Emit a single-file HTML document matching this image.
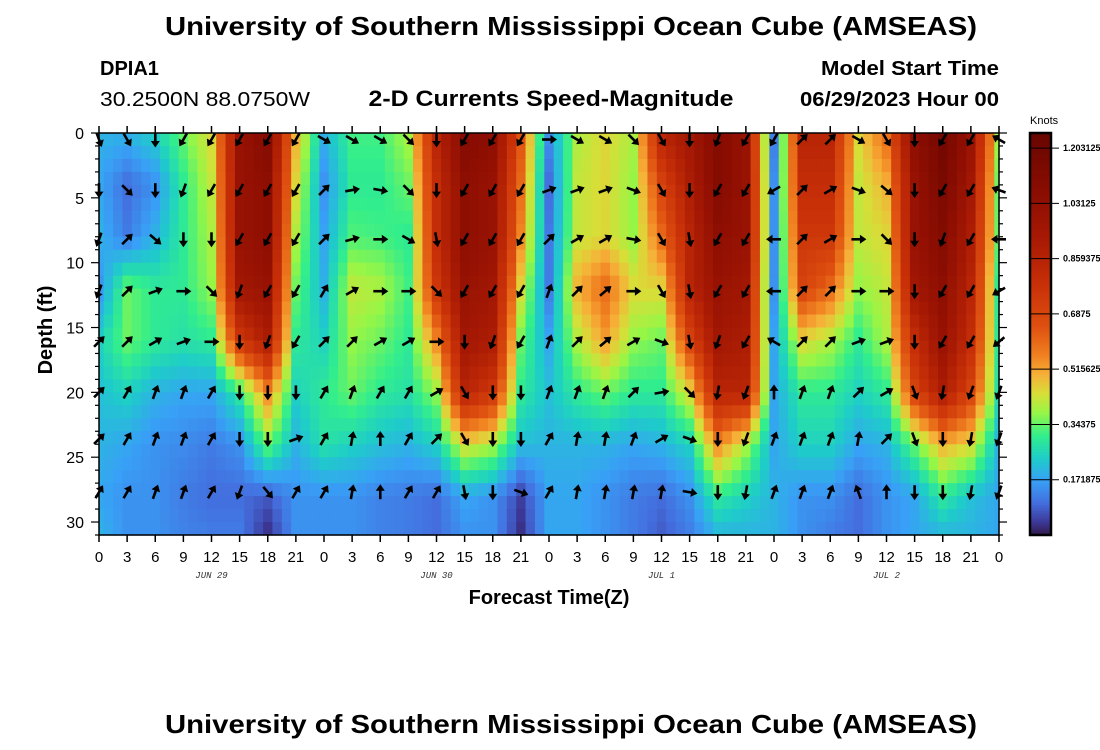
<!DOCTYPE html>
<html><head><meta charset="utf-8"><style>
html,body{margin:0;padding:0;background:#fff;width:1100px;height:750px;overflow:hidden}
svg{display:block;font-family:"Liberation Sans",sans-serif}
</style></head><body>
<svg id="chart" width="1100" height="750" viewBox="0 0 1100 750">
<text x="571" y="35" text-anchor="middle" font-size="26" font-weight="bold" textLength="812" lengthAdjust="spacingAndGlyphs">University of Southern Mississippi Ocean Cube (AMSEAS)</text>
<text x="100" y="75" font-size="20" font-weight="bold">DPIA1</text>
<text x="100" y="106" font-size="20" textLength="210" lengthAdjust="spacingAndGlyphs">30.2500N  88.0750W</text>
<text x="551" y="106" text-anchor="middle" font-size="22" font-weight="bold" textLength="365" lengthAdjust="spacingAndGlyphs">2-D Currents Speed-Magnitude</text>
<text x="999" y="75" text-anchor="end" font-size="20" font-weight="bold" textLength="178" lengthAdjust="spacingAndGlyphs">Model Start Time</text>
<text x="999" y="106" text-anchor="end" font-size="20" font-weight="bold" textLength="199" lengthAdjust="spacingAndGlyphs">06/29/2023 Hour 00</text>
<g id="heat"></g>
<g id="arrows"></g>
<rect x="99" y="133" width="900" height="402" fill="none" stroke="#000" stroke-width="1.5"/>
<g id="axes"></g>
<text transform="translate(52,330) rotate(-90)" text-anchor="middle" font-size="20" font-weight="bold">Depth (ft)</text>
<text x="549" y="604" text-anchor="middle" font-size="20" font-weight="bold">Forecast Time(Z)</text>
<g id="cbar"></g>
<text x="1030" y="124" font-size="11">Knots</text>
<text x="571" y="733" text-anchor="middle" font-size="26" font-weight="bold" textLength="812" lengthAdjust="spacingAndGlyphs">University of Southern Mississippi Ocean Cube (AMSEAS)</text>
</svg>
<script>
// data
const hours = [0,3,6,9,12,15,18,21,24,27,30,33,36,39,42,45,48,51,54,57,60,63,66,69,72,75,78,81,84,87,90,93,96];
const depthLevels = [0,4,8,12,16,20,24,28,31];
const speed = [
[0.2,0.18,0.2,0.15,0.25,0.22,0.2,0.18,0.2],
[0.2,0.1,0.12,0.35,0.35,0.25,0.18,0.15,0.15],
[0.25,0.15,0.2,0.3,0.3,0.2,0.15,0.15,0.15],
[0.35,0.3,0.3,0.3,0.28,0.18,0.14,0.12,0.13],
[0.45,0.42,0.4,0.38,0.3,0.18,0.12,0.1,0.12],
[1.0,1.0,1.0,0.95,0.75,0.3,0.15,0.1,0.12],
[1.1,1.05,1.05,1.0,0.9,0.55,0.35,0.08,0.03],
[0.5,0.45,0.4,0.35,0.3,0.25,0.2,0.15,0.15],
[0.2,0.15,0.18,0.2,0.25,0.3,0.28,0.15,0.15],
[0.32,0.3,0.33,0.42,0.38,0.35,0.25,0.15,0.15],
[0.32,0.3,0.32,0.4,0.35,0.3,0.22,0.13,0.13],
[0.4,0.35,0.3,0.32,0.3,0.28,0.2,0.12,0.12],
[0.85,0.8,0.8,0.75,0.55,0.38,0.25,0.1,0.1],
[1.1,1.05,1.05,1.0,0.95,0.85,0.45,0.18,0.15],
[1.05,1.0,1.0,0.95,0.9,0.75,0.4,0.15,0.15],
[0.65,0.6,0.55,0.45,0.35,0.3,0.22,0.05,0.03],
[0.15,0.1,0.12,0.12,0.18,0.22,0.2,0.18,0.18],
[0.4,0.42,0.42,0.5,0.4,0.3,0.2,0.18,0.18],
[0.45,0.45,0.45,0.6,0.52,0.35,0.2,0.15,0.15],
[0.4,0.38,0.38,0.45,0.38,0.3,0.18,0.12,0.12],
[0.85,0.7,0.6,0.45,0.35,0.3,0.2,0.1,0.08],
[0.95,0.9,0.85,0.85,0.7,0.45,0.25,0.15,0.12],
[1.1,1.1,1.05,1.0,0.95,0.85,0.55,0.3,0.2],
[1.0,1.0,1.0,0.95,0.9,0.85,0.4,0.25,0.2],
[0.12,0.15,0.15,0.15,0.18,0.18,0.18,0.2,0.2],
[0.85,0.8,0.75,0.7,0.45,0.3,0.25,0.15,0.15],
[0.85,0.8,0.75,0.6,0.4,0.3,0.25,0.15,0.12],
[0.45,0.42,0.42,0.38,0.3,0.25,0.18,0.1,0.1],
[0.6,0.5,0.45,0.42,0.4,0.3,0.2,0.15,0.15],
[1.05,1.0,1.0,0.95,0.8,0.7,0.35,0.18,0.18],
[1.2,1.15,1.1,1.05,1.0,0.9,0.5,0.3,0.2],
[1.0,0.95,0.9,0.85,0.8,0.7,0.45,0.22,0.2],
[0.4,0.35,0.35,0.3,0.3,0.28,0.2,0.18,0.18]
];
const arrowDepths = [0.5,4.4,8.2,12.2,16.1,20,23.6,27.7];
const arrowDir = [
[160,180,200,200,45,45,45,30],
[150,135,45,45,45,30,30,30],
[180,180,130,70,60,20,20,20],
[210,200,180,90,70,20,20,20],
[210,210,180,135,90,30,30,30],
[210,210,210,200,180,180,180,200],
[210,210,210,210,200,180,180,140],
[210,210,210,210,210,180,70,30],
[120,45,45,30,45,30,30,30],
[120,80,75,60,45,20,10,10],
[120,100,90,90,60,30,0,0],
[135,135,120,90,60,30,30,30],
[180,180,170,135,90,60,45,30],
[210,210,210,210,180,150,150,170],
[210,210,210,210,200,180,180,180],
[210,210,210,210,210,180,180,110],
[90,70,45,20,20,20,30,30],
[120,70,60,45,45,20,10,10],
[120,70,60,50,50,20,10,10],
[135,110,100,90,60,45,20,10],
[150,150,150,150,110,80,60,10],
[180,180,170,170,170,135,110,100],
[200,210,210,210,200,190,180,180],
[210,210,210,210,210,200,200,190],
[210,240,270,270,300,0,20,20],
[45,45,45,45,45,20,20,20],
[45,60,60,45,45,20,20,20],
[120,110,90,90,70,45,10,340],
[150,130,135,90,70,60,45,0],
[180,180,180,180,180,160,160,180],
[210,210,200,210,210,190,180,180],
[210,210,210,210,210,200,190,190],
[300,290,270,240,230,200,200,200]
];
const xTickLabels = ["0","3","6","9","12","15","18","21","0","3","6","9","12","15","18","21","0","3","6","9","12","15","18","21","0","3","6","9","12","15","18","21","0"];
const dateLabels = ["JUN 29","JUN 30","JUL 1","JUL 2"];
const dateHours = [12,36,60,84];
const yTicks = [0,5,10,15,20,25,30];
const cbarTicks = [0.171875,0.34375,0.515625,0.6875,0.859375,1.03125,1.20312];
const cbarLabels = ["0.171875","0.34375","0.515625","0.6875","0.859375","1.03125","1.203125"];

const NS='http://www.w3.org/2000/svg';
const X0=99,X1=999,Y0=133,Y1=535,HMAX=96,DMAX=31;
const xs=h=>X0+h*(X1-X0)/HMAX;
const ys=d=>Y0+d*(Y1-Y0)/DMAX;
const stops=[[0,[50,25,70]],[0.04,[60,55,150]],[0.1,[68,110,222]],[0.17,[56,160,246]],[0.24,[30,205,200]],[0.31,[50,238,140]],[0.38,[150,246,70]],[0.44,[215,222,56]],[0.5,[246,176,56]],[0.56,[240,128,32]],[0.65,[222,80,16]],[0.78,[200,48,8]],[0.92,[168,26,4]],[1.05,[142,14,2]],[1.25,[104,6,0]]];
function cmap(v){
  if(v<=stops[0][0])return 'rgb('+stops[0][1]+')';
  for(let i=1;i<stops.length;i++){if(v<=stops[i][0]){const a=stops[i-1],b=stops[i],t=(v-a[0])/(b[0]-a[0]);return 'rgb('+a[1].map((c,k)=>Math.round(c+(b[1][k]-c)*t)).join(',')+')';}}
  return 'rgb('+stops[stops.length-1][1]+')';
}
function mk(tag,attrs,parent){const e=document.createElementNS(NS,tag);for(const k in attrs)e.setAttribute(k,attrs[k]);parent.appendChild(e);return e;}
function interp(h,d){
  let ci=0;while(ci<hours.length-2&&hours[ci+1]<h)ci++;
  const tc=Math.min(1,Math.max(0,(h-hours[ci])/(hours[ci+1]-hours[ci])));
  let ri=0;while(ri<depthLevels.length-2&&depthLevels[ri+1]<d)ri++;
  const tr=Math.min(1,Math.max(0,(d-depthLevels[ri])/(depthLevels[ri+1]-depthLevels[ri])));
  const a=speed[ci][ri]*(1-tr)+speed[ci][ri+1]*tr,b=speed[ci+1][ri]*(1-tr)+speed[ci+1][ri+1]*tr;
  return a*(1-tc)+b*tc;
}
const heat=document.getElementById('heat');
for(let h=0;h<=HMAX;h++){
  for(let d=0;d<DMAX;d++){
    const xa=Math.max(X0,xs(h-0.5)),xb=Math.min(X1,xs(h+0.5));
    const r=mk('rect',{x:xa.toFixed(2),y:ys(d).toFixed(2),width:(xb-xa+0.6).toFixed(2),height:(ys(d+1)-ys(d)+0.6).toFixed(2),fill:cmap(interp(h,d+0.5))},heat);
    
    
  }
}
const ag=document.getElementById('arrows');
hours.forEach((h,i)=>{arrowDepths.forEach((d,j)=>{
  const g=mk('g',{transform:'translate('+xs(h).toFixed(1)+','+ys(d).toFixed(1)+') rotate('+arrowDir[i][j]+')'},ag);
  
  
  mk('line',{x1:0,y1:7,x2:0,y2:-3,stroke:'#000','stroke-width':2.6},g);
  mk('polygon',{points:'0,-8 -4.5,-1.5 4.5,-1.5',fill:'#000'},g);
})});
const ax=document.getElementById('axes');
hours.forEach((h,i)=>{
  mk('line',{x1:xs(h),y1:Y1,x2:xs(h),y2:Y1+7,stroke:'#000','stroke-width':1.5},ax);
  mk('line',{x1:xs(h),y1:Y0,x2:xs(h),y2:Y0-7,stroke:'#000','stroke-width':1.5},ax);
  const t=mk('text',{x:xs(h),y:562,'text-anchor':'middle','font-size':15},ax);t.textContent=xTickLabels[i];
  
  
});
dateLabels.forEach((s,i)=>{
  const t=mk('text',{x:xs(dateHours[i]),y:578,'text-anchor':'middle','font-size':9,'font-style':'italic','font-family':'Liberation Mono, monospace',fill:'#333'},ax);t.textContent=s;
  
  
});
for(let d=0;d<=DMAX;d++){
  const L=d%5===0?8:4;
  mk('line',{x1:X0-L,y1:ys(d),x2:X0,y2:ys(d),stroke:'#000','stroke-width':1.2},ax);
  mk('line',{x1:X1,y1:ys(d),x2:X1+L,y2:ys(d),stroke:'#000','stroke-width':1.2},ax);
}
yTicks.forEach(v=>{
  const t=mk('text',{x:84,y:ys(v)+6,'text-anchor':'end','font-size':16},ax);t.textContent=v;
  
  
});
const cb=document.getElementById('cbar');
const CB0=1030,CBW=21,CVMAX=1.25;
const cy=v=>Y1-v*(Y1-Y0)/CVMAX;
for(let k=0;k<200;k++){
  const v0=k*CVMAX/200,v1=(k+1)*CVMAX/200;
  mk('rect',{x:CB0,y:cy(v1).toFixed(2),width:CBW,height:(cy(v0)-cy(v1)+0.5).toFixed(2),fill:cmap((v0+v1)/2)},cb);
}
mk('rect',{x:CB0,y:Y0,width:CBW,height:Y1-Y0,fill:'none',stroke:'#000','stroke-width':2.5},cb);
cbarTicks.forEach((v,i)=>{
  mk('line',{x1:CB0,y1:cy(v),x2:CB0+CBW+8,y2:cy(v),stroke:'#000','stroke-width':1},cb);
  const t=mk('text',{x:1063,y:cy(v)+3,'font-size':9,'font-weight':'bold'},cb);t.textContent=cbarLabels[i];
  
  
});
</script>
</body></html>
